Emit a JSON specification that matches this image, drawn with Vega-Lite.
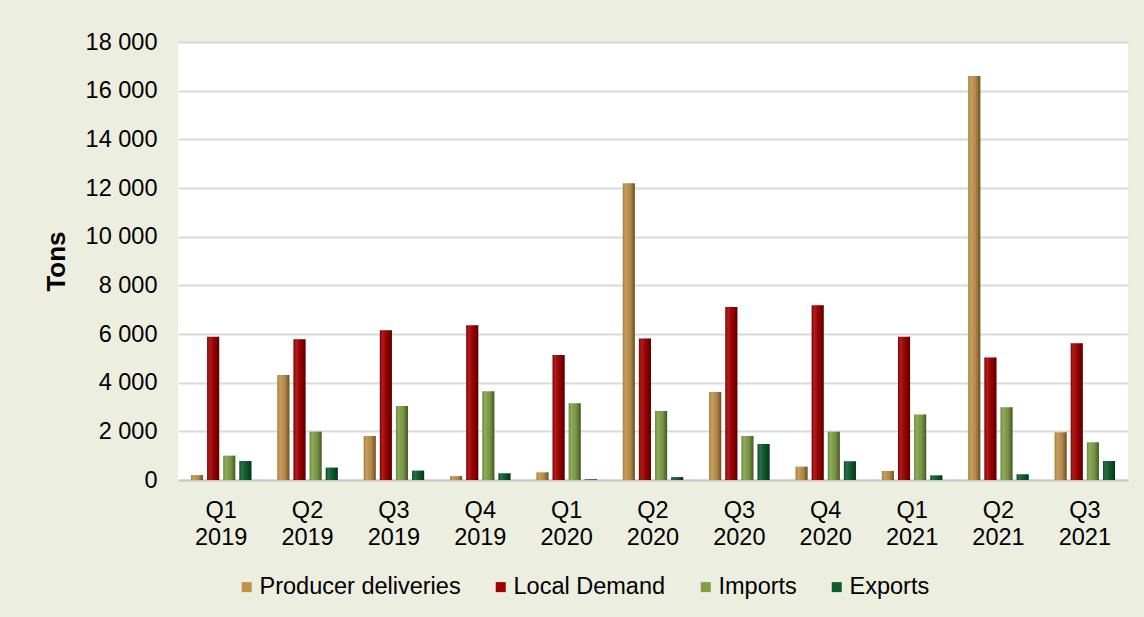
{
  "$schema": "https://vega.github.io/schema/vega-lite/v6.json",
  "autosize": {"type": "none"},
  "width": 950,
  "height": 438,
  "padding": {"left": 178, "top": 42, "right": 16, "bottom": 137},
  "background": "#ECEEDF",
  "config": {
    "view": {"fill": "white", "stroke": null},
    "font": "Liberation Sans",
    "locale": {"number": {"decimal": ".", "thousands": " ", "grouping": [3], "currency": ["", ""]}}
  },
  "data": {
    "values": [
      {"q": "Q1 2019", "s": "Producer deliveries", "v": 200},
      {"q": "Q1 2019", "s": "Local Demand", "v": 5890},
      {"q": "Q1 2019", "s": "Imports", "v": 1000},
      {"q": "Q1 2019", "s": "Exports", "v": 780},
      {"q": "Q2 2019", "s": "Producer deliveries", "v": 4310},
      {"q": "Q2 2019", "s": "Local Demand", "v": 5780},
      {"q": "Q2 2019", "s": "Imports", "v": 1985},
      {"q": "Q2 2019", "s": "Exports", "v": 510},
      {"q": "Q3 2019", "s": "Producer deliveries", "v": 1810},
      {"q": "Q3 2019", "s": "Local Demand", "v": 6150},
      {"q": "Q3 2019", "s": "Imports", "v": 3040},
      {"q": "Q3 2019", "s": "Exports", "v": 385},
      {"q": "Q4 2019", "s": "Producer deliveries", "v": 160},
      {"q": "Q4 2019", "s": "Local Demand", "v": 6360},
      {"q": "Q4 2019", "s": "Imports", "v": 3645},
      {"q": "Q4 2019", "s": "Exports", "v": 275},
      {"q": "Q1 2020", "s": "Producer deliveries", "v": 315},
      {"q": "Q1 2020", "s": "Local Demand", "v": 5140},
      {"q": "Q1 2020", "s": "Imports", "v": 3150},
      {"q": "Q1 2020", "s": "Exports", "v": 30},
      {"q": "Q2 2020", "s": "Producer deliveries", "v": 12200},
      {"q": "Q2 2020", "s": "Local Demand", "v": 5820},
      {"q": "Q2 2020", "s": "Imports", "v": 2835},
      {"q": "Q2 2020", "s": "Exports", "v": 120},
      {"q": "Q3 2020", "s": "Producer deliveries", "v": 3615},
      {"q": "Q3 2020", "s": "Local Demand", "v": 7110},
      {"q": "Q3 2020", "s": "Imports", "v": 1810},
      {"q": "Q3 2020", "s": "Exports", "v": 1480},
      {"q": "Q4 2020", "s": "Producer deliveries", "v": 550},
      {"q": "Q4 2020", "s": "Local Demand", "v": 7180},
      {"q": "Q4 2020", "s": "Imports", "v": 1985},
      {"q": "Q4 2020", "s": "Exports", "v": 770},
      {"q": "Q1 2021", "s": "Producer deliveries", "v": 370},
      {"q": "Q1 2021", "s": "Local Demand", "v": 5890},
      {"q": "Q1 2021", "s": "Imports", "v": 2690},
      {"q": "Q1 2021", "s": "Exports", "v": 190},
      {"q": "Q2 2021", "s": "Producer deliveries", "v": 16600},
      {"q": "Q2 2021", "s": "Local Demand", "v": 5030},
      {"q": "Q2 2021", "s": "Imports", "v": 2990},
      {"q": "Q2 2021", "s": "Exports", "v": 235},
      {"q": "Q3 2021", "s": "Producer deliveries", "v": 1960},
      {"q": "Q3 2021", "s": "Local Demand", "v": 5620},
      {"q": "Q3 2021", "s": "Imports", "v": 1550},
      {"q": "Q3 2021", "s": "Exports", "v": 780}
    ]
  },
  "encoding": {
    "x": {
      "field": "q", "type": "nominal", "sort": null,
      "scale": {"paddingInner": 0.3, "paddingOuter": 0.15},
      "axis": {
        "title": null, "labelAngle": 0, "labelExpr": "split(datum.label, ' ')",
        "labelFontSize": 23.5, "labelColor": "#000000", "labelLineHeight": 27, "labelPadding": 18,
        "ticks": false, "domainColor": "#C8C8C8", "domainWidth": 2
      }
    },
    "xOffset": {
      "field": "s", "type": "nominal",
      "sort": ["Producer deliveries", "Local Demand", "Imports", "Exports"],
      "scale": {"paddingInner": 0.25}
    },
    "y": {
      "field": "v", "type": "quantitative",
      "scale": {"domain": [0, 18000]},
      "axis": {
        "title": "Tons", "titleFontSize": 26, "titleFontWeight": "bold", "titleColor": "#000000", "titlePadding": 16,
        "values": [0, 2000, 4000, 6000, 8000, 10000, 12000, 14000, 16000, 18000],
        "format": ",d", "labelFontSize": 23.5, "labelColor": "#000000", "labelPadding": 21,
        "ticks": false, "domain": false, "gridColor": "#D9D9D9", "gridWidth": 2
      }
    }
  },
  "layer": [
    {
      "mark": {"type": "bar"},
      "encoding": {
        "color": {
          "field": "s", "type": "nominal",
          "sort": ["Producer deliveries", "Local Demand", "Imports", "Exports"],
          "scale": {"domain": ["Producer deliveries", "Local Demand", "Imports", "Exports"], "range": ["#C0924A", "#A00000", "#80A048", "#0E5C2C"]},
          "legend": {
            "title": null, "orient": "none", "legendX": 57, "legendY": 533, "direction": "horizontal",
            "symbolType": "square", "symbolSize": 100, "symbolOffset": 0, "labelOffset": 1,
            "labelFontSize": 23.5, "labelColor": "#000000", "labelLimit": 400, "columnPadding": 28, "symbolStrokeWidth": 0
          }
        }
      }
    },
    {
      "mark": {
        "type": "bar",
        "fill": {
          "gradient": "linear", "x1": 0, "y1": 0, "x2": 1, "y2": 0,
          "stops": [
            {"offset": 0, "color": "rgba(0,0,0,0.15)"},
            {"offset": 0.25, "color": "rgba(255,255,255,0.12)"},
            {"offset": 0.6, "color": "rgba(0,0,0,0.05)"},
            {"offset": 1, "color": "rgba(0,0,0,0.45)"}
          ]
        }
      }
    }
  ]
}
